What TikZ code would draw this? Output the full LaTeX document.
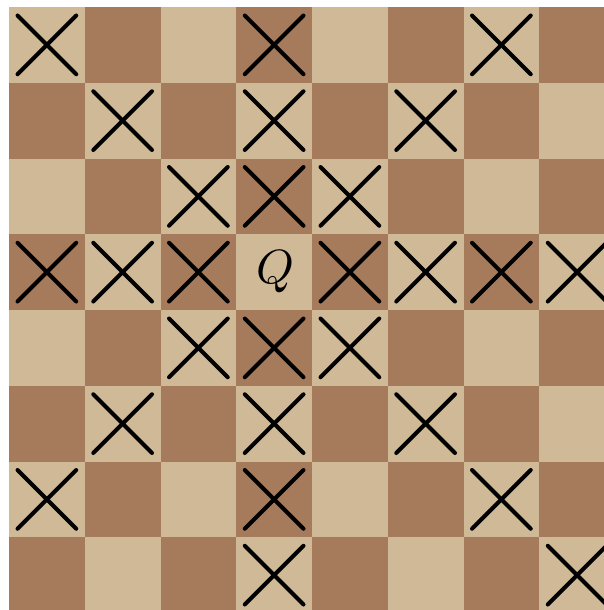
\documentclass[tikz,border=0pt]{standalone}
\usepackage{graphicx}
\definecolor{lightsq}{RGB}{207,185,150}
\definecolor{darksq}{RGB}{166,123,92}
\tikzset{
  mark cross/.style={line width=4pt, line cap=round, black},
  queenlabel/.style={inner sep=0pt}
}
\begin{document}
\begin{tikzpicture}[x=1pt,y=-1pt]
\useasboundingbox (0,0) rectangle (604,610);
\fill[white] (0,0) rectangle (604,610);
\clip (0,0) rectangle (604,610);
\def\sq{75.75}
\def\ox{9}
\def\oy{7}
\foreach \r in {0,...,7}{
  \foreach \c in {0,...,7}{
    \pgfmathtruncatemacro{\myparity}{mod(\r+\c,2)}
    \ifnum\myparity=0
      \fill[lightsq] (\ox+\c*\sq,\oy+\r*\sq) rectangle ++(\sq,\sq);
    \else
      \fill[darksq] (\ox+\c*\sq,\oy+\r*\sq) rectangle ++(\sq,\sq);
    \fi
  }
}
\foreach \r/\c in {0/0,0/3,0/6, 1/1,1/3,1/5, 2/2,2/3,2/4, 3/0,3/1,3/2,3/4,3/5,3/6,3/7, 4/2,4/3,4/4, 5/1,5/3,5/5, 6/0,6/3,6/6, 7/3,7/7}{
  \draw[mark cross] (\ox+\c*\sq+8.5,\oy+\r*\sq+8.5) -- ++(58.75,58.75);
  \draw[mark cross] (\ox+\c*\sq+8.5,\oy+\r*\sq+67.25) -- ++(58.75,-58.75);
}
\node[queenlabel] (queen) at (\ox+3.5*\sq+1,\oy+3.5*\sq) {\scalebox{4.8}{$Q$}};
\end{tikzpicture}
\end{document}
